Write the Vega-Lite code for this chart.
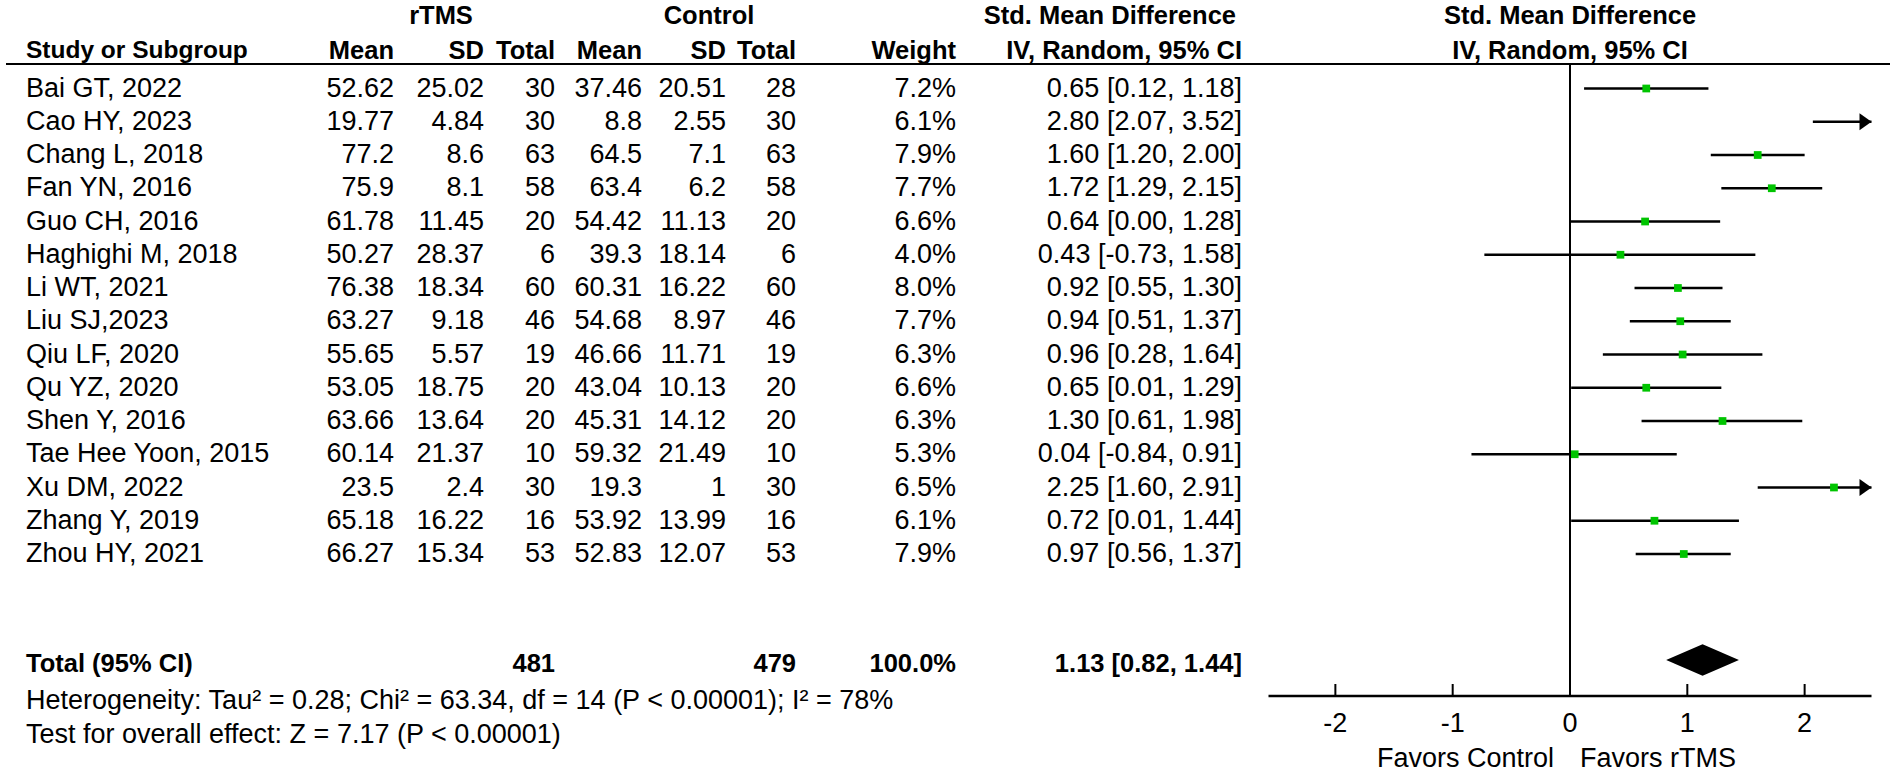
{
  "$schema": "https://vega.github.io/schema/vega-lite/v6.json",
  "width": 1901,
  "height": 772,
  "autosize": {"type": "fit", "contains": "padding"},
  "padding": 0,
  "background": "white",
  "config": {
    "view": {"stroke": null},
    "text": {"font": "Liberation Sans", "fontSize": 27, "baseline": "middle", "fill": "#000"}
  },
  "datasets": {
    "studies": [
      {"study": "Bai GT, 2022", "m1": "52.62", "sd1": "25.02", "n1": "30", "m2": "37.46", "sd2": "20.51", "n2": "28", "w": "7.2%", "smd": 0.65, "lo": 0.12, "hi": 1.18, "ci": "0.65 [0.12, 1.18]"},
      {"study": "Cao HY, 2023", "m1": "19.77", "sd1": "4.84", "n1": "30", "m2": "8.8", "sd2": "2.55", "n2": "30", "w": "6.1%", "smd": 2.80, "lo": 2.07, "hi": 3.52, "ci": "2.80 [2.07, 3.52]"},
      {"study": "Chang L, 2018", "m1": "77.2", "sd1": "8.6", "n1": "63", "m2": "64.5", "sd2": "7.1", "n2": "63", "w": "7.9%", "smd": 1.60, "lo": 1.20, "hi": 2.00, "ci": "1.60 [1.20, 2.00]"},
      {"study": "Fan YN, 2016", "m1": "75.9", "sd1": "8.1", "n1": "58", "m2": "63.4", "sd2": "6.2", "n2": "58", "w": "7.7%", "smd": 1.72, "lo": 1.29, "hi": 2.15, "ci": "1.72 [1.29, 2.15]"},
      {"study": "Guo CH, 2016", "m1": "61.78", "sd1": "11.45", "n1": "20", "m2": "54.42", "sd2": "11.13", "n2": "20", "w": "6.6%", "smd": 0.64, "lo": 0.00, "hi": 1.28, "ci": "0.64 [0.00, 1.28]"},
      {"study": "Haghighi M, 2018", "m1": "50.27", "sd1": "28.37", "n1": "6", "m2": "39.3", "sd2": "18.14", "n2": "6", "w": "4.0%", "smd": 0.43, "lo": -0.73, "hi": 1.58, "ci": "0.43 [-0.73, 1.58]"},
      {"study": "Li WT, 2021", "m1": "76.38", "sd1": "18.34", "n1": "60", "m2": "60.31", "sd2": "16.22", "n2": "60", "w": "8.0%", "smd": 0.92, "lo": 0.55, "hi": 1.30, "ci": "0.92 [0.55, 1.30]"},
      {"study": "Liu SJ,2023", "m1": "63.27", "sd1": "9.18", "n1": "46", "m2": "54.68", "sd2": "8.97", "n2": "46", "w": "7.7%", "smd": 0.94, "lo": 0.51, "hi": 1.37, "ci": "0.94 [0.51, 1.37]"},
      {"study": "Qiu LF, 2020", "m1": "55.65", "sd1": "5.57", "n1": "19", "m2": "46.66", "sd2": "11.71", "n2": "19", "w": "6.3%", "smd": 0.96, "lo": 0.28, "hi": 1.64, "ci": "0.96 [0.28, 1.64]"},
      {"study": "Qu YZ, 2020", "m1": "53.05", "sd1": "18.75", "n1": "20", "m2": "43.04", "sd2": "10.13", "n2": "20", "w": "6.6%", "smd": 0.65, "lo": 0.01, "hi": 1.29, "ci": "0.65 [0.01, 1.29]"},
      {"study": "Shen Y, 2016", "m1": "63.66", "sd1": "13.64", "n1": "20", "m2": "45.31", "sd2": "14.12", "n2": "20", "w": "6.3%", "smd": 1.30, "lo": 0.61, "hi": 1.98, "ci": "1.30 [0.61, 1.98]"},
      {"study": "Tae Hee Yoon, 2015", "m1": "60.14", "sd1": "21.37", "n1": "10", "m2": "59.32", "sd2": "21.49", "n2": "10", "w": "5.3%", "smd": 0.04, "lo": -0.84, "hi": 0.91, "ci": "0.04 [-0.84, 0.91]"},
      {"study": "Xu DM, 2022", "m1": "23.5", "sd1": "2.4", "n1": "30", "m2": "19.3", "sd2": "1", "n2": "30", "w": "6.5%", "smd": 2.25, "lo": 1.60, "hi": 2.91, "ci": "2.25 [1.60, 2.91]"},
      {"study": "Zhang Y, 2019", "m1": "65.18", "sd1": "16.22", "n1": "16", "m2": "53.92", "sd2": "13.99", "n2": "16", "w": "6.1%", "smd": 0.72, "lo": 0.01, "hi": 1.44, "ci": "0.72 [0.01, 1.44]"},
      {"study": "Zhou HY, 2021", "m1": "66.27", "sd1": "15.34", "n1": "53", "m2": "52.83", "sd2": "12.07", "n2": "53", "w": "7.9%", "smd": 0.97, "lo": 0.56, "hi": 1.37, "ci": "0.97 [0.56, 1.37]"}
    ],
    "overall": [{"smd": 1.13, "lo": 0.82, "hi": 1.44}],
    "ticks": [{"t": -2}, {"t": -1}, {"t": 0}, {"t": 1}, {"t": 2}]
  },
  "resolve": {"scale": {"x": "independent", "y": "independent"}},
  "layer": [
    {
      "data": {"values": [{}]},
      "layer": [
        {"mark": {"type": "text", "text": "rTMS", "align": "center", "fontWeight": "bold", "fontSize": 25.5},
         "encoding": {"x": {"datum": 441, "type": "quantitative", "scale": {"domain": [0, 1901]}, "axis": null}, "y": {"datum": 16, "type": "quantitative", "scale": {"domain": [0, 772], "reverse": true}, "axis": null}}},
        {"mark": {"type": "text", "text": "Control", "align": "center", "fontWeight": "bold", "fontSize": 25.5},
         "encoding": {"x": {"datum": 709, "type": "quantitative", "scale": {"domain": [0, 1901]}, "axis": null}, "y": {"datum": 16, "type": "quantitative", "scale": {"domain": [0, 772], "reverse": true}, "axis": null}}},
        {"mark": {"type": "text", "text": "Std. Mean Difference", "align": "right", "fontWeight": "bold", "fontSize": 25.5},
         "encoding": {"x": {"datum": 1236, "type": "quantitative", "scale": {"domain": [0, 1901]}, "axis": null}, "y": {"datum": 16, "type": "quantitative", "scale": {"domain": [0, 772], "reverse": true}, "axis": null}}},
        {"mark": {"type": "text", "text": "Study or Subgroup", "align": "left", "fontWeight": "bold", "fontSize": 24.5},
         "encoding": {"x": {"datum": 26, "type": "quantitative", "scale": {"domain": [0, 1901]}, "axis": null}, "y": {"datum": 51, "type": "quantitative", "scale": {"domain": [0, 772], "reverse": true}, "axis": null}}},
        {"mark": {"type": "text", "text": "Mean", "align": "right", "fontWeight": "bold", "fontSize": 25.5},
         "encoding": {"x": {"datum": 394, "type": "quantitative", "scale": {"domain": [0, 1901]}, "axis": null}, "y": {"datum": 51, "type": "quantitative", "scale": {"domain": [0, 772], "reverse": true}, "axis": null}}},
        {"mark": {"type": "text", "text": "SD", "align": "right", "fontWeight": "bold", "fontSize": 25.5},
         "encoding": {"x": {"datum": 484, "type": "quantitative", "scale": {"domain": [0, 1901]}, "axis": null}, "y": {"datum": 51, "type": "quantitative", "scale": {"domain": [0, 772], "reverse": true}, "axis": null}}},
        {"mark": {"type": "text", "text": "Total", "align": "right", "fontWeight": "bold", "fontSize": 25.5},
         "encoding": {"x": {"datum": 555, "type": "quantitative", "scale": {"domain": [0, 1901]}, "axis": null}, "y": {"datum": 51, "type": "quantitative", "scale": {"domain": [0, 772], "reverse": true}, "axis": null}}},
        {"mark": {"type": "text", "text": "Mean", "align": "right", "fontWeight": "bold", "fontSize": 25.5},
         "encoding": {"x": {"datum": 642, "type": "quantitative", "scale": {"domain": [0, 1901]}, "axis": null}, "y": {"datum": 51, "type": "quantitative", "scale": {"domain": [0, 772], "reverse": true}, "axis": null}}},
        {"mark": {"type": "text", "text": "SD", "align": "right", "fontWeight": "bold", "fontSize": 25.5},
         "encoding": {"x": {"datum": 726, "type": "quantitative", "scale": {"domain": [0, 1901]}, "axis": null}, "y": {"datum": 51, "type": "quantitative", "scale": {"domain": [0, 772], "reverse": true}, "axis": null}}},
        {"mark": {"type": "text", "text": "Total", "align": "right", "fontWeight": "bold", "fontSize": 25.5},
         "encoding": {"x": {"datum": 796, "type": "quantitative", "scale": {"domain": [0, 1901]}, "axis": null}, "y": {"datum": 51, "type": "quantitative", "scale": {"domain": [0, 772], "reverse": true}, "axis": null}}},
        {"mark": {"type": "text", "text": "Weight", "align": "right", "fontWeight": "bold", "fontSize": 25.5},
         "encoding": {"x": {"datum": 956, "type": "quantitative", "scale": {"domain": [0, 1901]}, "axis": null}, "y": {"datum": 51, "type": "quantitative", "scale": {"domain": [0, 772], "reverse": true}, "axis": null}}},
        {"mark": {"type": "text", "text": "IV, Random, 95% CI", "align": "right", "fontWeight": "bold", "fontSize": 25.5},
         "encoding": {"x": {"datum": 1242, "type": "quantitative", "scale": {"domain": [0, 1901]}, "axis": null}, "y": {"datum": 51, "type": "quantitative", "scale": {"domain": [0, 772], "reverse": true}, "axis": null}}},
        {"mark": {"type": "rule", "strokeWidth": 2, "color": "#000"},
         "encoding": {"x": {"datum": 6, "type": "quantitative", "scale": {"domain": [0, 1901]}, "axis": null}, "x2": {"datum": 1890}, "y": {"datum": 64, "type": "quantitative", "scale": {"domain": [0, 772], "reverse": true}, "axis": null}}},
        {"mark": {"type": "text", "text": "Total (95% CI)", "align": "left", "fontWeight": "bold", "fontSize": 25.5},
         "encoding": {"x": {"datum": 26, "type": "quantitative", "scale": {"domain": [0, 1901]}, "axis": null}, "y": {"datum": 664, "type": "quantitative", "scale": {"domain": [0, 772], "reverse": true}, "axis": null}}},
        {"mark": {"type": "text", "text": "481", "align": "right", "fontWeight": "bold", "fontSize": 25.5},
         "encoding": {"x": {"datum": 555, "type": "quantitative", "scale": {"domain": [0, 1901]}, "axis": null}, "y": {"datum": 664, "type": "quantitative", "scale": {"domain": [0, 772], "reverse": true}, "axis": null}}},
        {"mark": {"type": "text", "text": "479", "align": "right", "fontWeight": "bold", "fontSize": 25.5},
         "encoding": {"x": {"datum": 796, "type": "quantitative", "scale": {"domain": [0, 1901]}, "axis": null}, "y": {"datum": 664, "type": "quantitative", "scale": {"domain": [0, 772], "reverse": true}, "axis": null}}},
        {"mark": {"type": "text", "text": "100.0%", "align": "right", "fontWeight": "bold", "fontSize": 25.5},
         "encoding": {"x": {"datum": 956, "type": "quantitative", "scale": {"domain": [0, 1901]}, "axis": null}, "y": {"datum": 664, "type": "quantitative", "scale": {"domain": [0, 772], "reverse": true}, "axis": null}}},
        {"mark": {"type": "text", "text": "1.13 [0.82, 1.44]", "align": "right", "fontWeight": "bold", "fontSize": 25.5},
         "encoding": {"x": {"datum": 1242, "type": "quantitative", "scale": {"domain": [0, 1901]}, "axis": null}, "y": {"datum": 664, "type": "quantitative", "scale": {"domain": [0, 772], "reverse": true}, "axis": null}}},
        {"mark": {"type": "text", "text": "Heterogeneity: Tau² = 0.28; Chi² = 63.34, df = 14 (P < 0.00001); I² = 78%", "align": "left"},
         "encoding": {"x": {"datum": 26, "type": "quantitative", "scale": {"domain": [0, 1901]}, "axis": null}, "y": {"datum": 701, "type": "quantitative", "scale": {"domain": [0, 772], "reverse": true}, "axis": null}}},
        {"mark": {"type": "text", "text": "Test for overall effect: Z = 7.17 (P < 0.00001)", "align": "left"},
         "encoding": {"x": {"datum": 26, "type": "quantitative", "scale": {"domain": [0, 1901]}, "axis": null}, "y": {"datum": 735, "type": "quantitative", "scale": {"domain": [0, 772], "reverse": true}, "axis": null}}}
      ]
    },
    {
      "data": {"name": "studies"},
      "encoding": {
        "y": {"field": "study", "type": "nominal", "sort": null, "scale": {"type": "point", "padding": 0, "range": [88.5, 554]}, "axis": null}
      },
      "layer": [
        {"mark": {"type": "text", "align": "left"}, "encoding": {"x": {"datum": 26, "type": "quantitative", "scale": {"domain": [0, 1901]}, "axis": null}, "text": {"field": "study", "type": "nominal"}}},
        {"mark": {"type": "text", "align": "right"}, "encoding": {"x": {"datum": 394, "type": "quantitative", "scale": {"domain": [0, 1901]}, "axis": null}, "text": {"field": "m1", "type": "nominal"}}},
        {"mark": {"type": "text", "align": "right"}, "encoding": {"x": {"datum": 484, "type": "quantitative", "scale": {"domain": [0, 1901]}, "axis": null}, "text": {"field": "sd1", "type": "nominal"}}},
        {"mark": {"type": "text", "align": "right"}, "encoding": {"x": {"datum": 555, "type": "quantitative", "scale": {"domain": [0, 1901]}, "axis": null}, "text": {"field": "n1", "type": "nominal"}}},
        {"mark": {"type": "text", "align": "right"}, "encoding": {"x": {"datum": 642, "type": "quantitative", "scale": {"domain": [0, 1901]}, "axis": null}, "text": {"field": "m2", "type": "nominal"}}},
        {"mark": {"type": "text", "align": "right"}, "encoding": {"x": {"datum": 726, "type": "quantitative", "scale": {"domain": [0, 1901]}, "axis": null}, "text": {"field": "sd2", "type": "nominal"}}},
        {"mark": {"type": "text", "align": "right"}, "encoding": {"x": {"datum": 796, "type": "quantitative", "scale": {"domain": [0, 1901]}, "axis": null}, "text": {"field": "n2", "type": "nominal"}}},
        {"mark": {"type": "text", "align": "right"}, "encoding": {"x": {"datum": 956, "type": "quantitative", "scale": {"domain": [0, 1901]}, "axis": null}, "text": {"field": "w", "type": "nominal"}}},
        {"mark": {"type": "text", "align": "right"}, "encoding": {"x": {"datum": 1242, "type": "quantitative", "scale": {"domain": [0, 1901]}, "axis": null}, "text": {"field": "ci", "type": "nominal"}}}
      ]
    },
    {
      "data": {"name": "studies"},
      "encoding": {
        "y": {"field": "study", "type": "nominal", "sort": null, "scale": {"type": "point", "padding": 0, "range": [88.5, 554]}, "axis": null}
      },
      "layer": [
        {"mark": {"type": "rule", "strokeWidth": 2.5, "color": "#000"},
         "encoding": {"x": {"field": "lo", "type": "quantitative", "scale": {"domain": [-2.57, 2.57], "range": [1268.5, 1871.5], "clamp": true, "nice": false, "zero": false}, "axis": null}, "x2": {"field": "hi"}}},
        {"mark": {"type": "point", "shape": "M-1,-0.7L0,0L-1,0.7Z", "filled": true, "size": 576, "color": "#000", "strokeWidth": 0},
         "encoding": {"x": {"field": "hi", "type": "quantitative", "scale": {"domain": [-2.57, 2.57], "range": [1268.5, 1871.5], "clamp": true, "nice": false, "zero": false}, "axis": null},
                      "opacity": {"condition": {"test": "datum.hi > 2.57", "value": 1}, "value": 0}}},
        {"mark": {"type": "point", "shape": "square", "filled": true, "size": 60, "color": "#00c400", "strokeWidth": 0},
         "encoding": {"x": {"field": "smd", "type": "quantitative", "scale": {"domain": [-2.57, 2.57], "range": [1268.5, 1871.5], "clamp": true, "nice": false, "zero": false}, "axis": null},
                      "opacity": {"condition": {"test": "datum.smd > 2.57", "value": 0}, "value": 1}}}
      ]
    },
    {
      "layer": [
        {"data": {"values": [{}]},
         "mark": {"type": "rule", "strokeWidth": 2, "color": "#000"},
         "encoding": {"x": {"datum": 0, "type": "quantitative", "scale": {"domain": [-2.57, 2.57], "range": [1268.5, 1871.5], "nice": false, "zero": false}, "axis": null},
                      "y": {"datum": 64, "type": "quantitative", "scale": {"domain": [0, 772], "reverse": true}, "axis": null}, "y2": {"datum": 696}}},
        {"data": {"values": [{}]},
         "mark": {"type": "rule", "strokeWidth": 2.5, "color": "#000"},
         "encoding": {"x": {"datum": -2.57, "type": "quantitative", "scale": {"domain": [-2.57, 2.57], "range": [1268.5, 1871.5], "nice": false, "zero": false}, "axis": null}, "x2": {"datum": 2.57},
                      "y": {"datum": 696, "type": "quantitative", "scale": {"domain": [0, 772], "reverse": true}, "axis": null}}},
        {"data": {"name": "ticks"},
         "mark": {"type": "rule", "strokeWidth": 2, "color": "#000"},
         "encoding": {"x": {"field": "t", "type": "quantitative", "scale": {"domain": [-2.57, 2.57], "range": [1268.5, 1871.5], "nice": false, "zero": false}, "axis": null},
                      "y": {"datum": 684, "type": "quantitative", "scale": {"domain": [0, 772], "reverse": true}, "axis": null}, "y2": {"datum": 696}}},
        {"data": {"name": "ticks"},
         "mark": {"type": "text", "align": "center"},
         "encoding": {"x": {"field": "t", "type": "quantitative", "scale": {"domain": [-2.57, 2.57], "range": [1268.5, 1871.5], "nice": false, "zero": false}, "axis": null},
                      "y": {"datum": 724, "type": "quantitative", "scale": {"domain": [0, 772], "reverse": true}, "axis": null},
                      "text": {"field": "t", "type": "nominal"}}},
        {"data": {"name": "overall"},
         "mark": {"type": "point", "shape": "M-1,0L0,-0.43L1,0L0,0.43Z", "filled": true, "size": 5300, "color": "#000", "opacity": 1, "strokeWidth": 0},
         "encoding": {"x": {"field": "smd", "type": "quantitative", "scale": {"domain": [-2.57, 2.57], "range": [1268.5, 1871.5], "nice": false, "zero": false}, "axis": null},
                      "y": {"datum": 660, "type": "quantitative", "scale": {"domain": [0, 772], "reverse": true}, "axis": null}}},
        {"data": {"values": [{}]},
         "mark": {"type": "text", "text": "Std. Mean Difference", "align": "center", "fontWeight": "bold", "fontSize": 25.5},
         "encoding": {"x": {"datum": 0, "type": "quantitative", "scale": {"domain": [-2.57, 2.57], "range": [1268.5, 1871.5], "nice": false, "zero": false}, "axis": null},
                      "y": {"datum": 16, "type": "quantitative", "scale": {"domain": [0, 772], "reverse": true}, "axis": null}}},
        {"data": {"values": [{}]},
         "mark": {"type": "text", "text": "IV, Random, 95% CI", "align": "center", "fontWeight": "bold", "fontSize": 25.5},
         "encoding": {"x": {"datum": 0, "type": "quantitative", "scale": {"domain": [-2.57, 2.57], "range": [1268.5, 1871.5], "nice": false, "zero": false}, "axis": null},
                      "y": {"datum": 51, "type": "quantitative", "scale": {"domain": [0, 772], "reverse": true}, "axis": null}}},
        {"data": {"values": [{}]},
         "mark": {"type": "text", "text": "Favors Control", "align": "right", "dx": -16},
         "encoding": {"x": {"datum": 0, "type": "quantitative", "scale": {"domain": [-2.57, 2.57], "range": [1268.5, 1871.5], "nice": false, "zero": false}, "axis": null},
                      "y": {"datum": 759, "type": "quantitative", "scale": {"domain": [0, 772], "reverse": true}, "axis": null}}},
        {"data": {"values": [{}]},
         "mark": {"type": "text", "text": "Favors rTMS", "align": "left", "dx": 10},
         "encoding": {"x": {"datum": 0, "type": "quantitative", "scale": {"domain": [-2.57, 2.57], "range": [1268.5, 1871.5], "nice": false, "zero": false}, "axis": null},
                      "y": {"datum": 759, "type": "quantitative", "scale": {"domain": [0, 772], "reverse": true}, "axis": null}}}
      ]
    }
  ]
}
